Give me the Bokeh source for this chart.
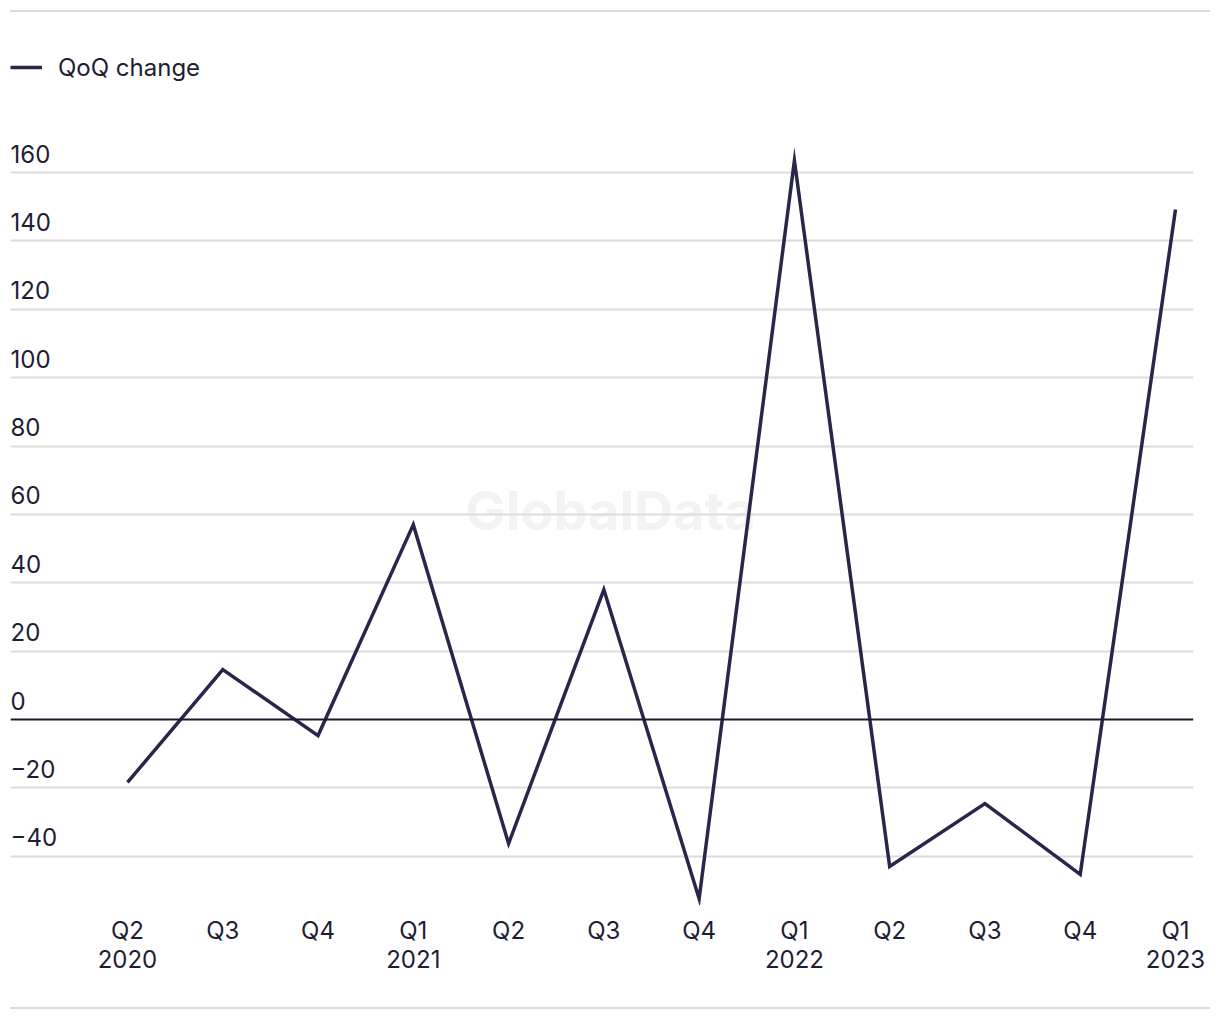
from bokeh.plotting import figure
from bokeh.models import (Range1d, FixedTicker, Span, Legend, LegendItem, Div, ColumnDataSource)
from bokeh.layouts import column
from bokeh.core.properties import value
from bokeh.embed import file_html
from bokeh.resources import INLINE

# ---- data ----
quarters = ["Q2\n2020", "Q3", "Q4", "Q1\n2021", "Q2", "Q3", "Q4",
            "Q1\n2022", "Q2", "Q3", "Q4", "Q1\n2023"]
qoq_change = [-18.4, 14.6, -4.7, 57.0, -36.3, 38.0, -52.4,
              163.5, -43.0, -24.6, -45.3, 149.2]
y_ticks = [-40, -20, 0, 20, 40, 60, 80, 100, 120, 140, 160]
y_tick_labels = [("\u2212" + str(-t)) if t < 0 else str(t) for t in y_ticks]

FONT = "Inter"
TEXT = "#1d1d33"
LINE = "#28274b"
GRID = "#dcdcdc"

x_idx = list(range(len(quarters)))
x_start, x_end = -1.228, 11.189

p = figure(width=1210, height=995, output_backend="svg", toolbar_location=None,
           x_range=Range1d(x_start, x_end), y_range=Range1d(-54.4, 195.1),
           y_axis_location=None, min_border_left=10, min_border_right=17,
           min_border_top=40, min_border_bottom=102)
p.outline_line_color = None
p.background_fill_color = "white"
p.border_fill_color = "white"

# watermark
wm = p.text(x=[5.07], y=[61], text=["GlobalData"], text_align="center",
            text_baseline="middle", text_font=value(FONT), text_font_style="bold",
            text_font_size="54px", text_color="#f3f3f3")
wm.level = "image"

# grid
p.xgrid.visible = False
p.ygrid.ticker = FixedTicker(ticks=[t for t in y_ticks if t != 0])
p.ygrid.grid_line_color = GRID
p.ygrid.grid_line_width = 2
p.add_layout(Span(location=0, dimension="width", line_color="#1a1a2e", line_width=2))

# y tick labels above gridlines
lab_src = ColumnDataSource(dict(x=[x_start] * len(y_ticks), y=y_ticks, t=y_tick_labels))
p.text(x="x", y="y", text="t", source=lab_src, text_align="left",
       text_baseline="alphabetic", y_offset=-19, text_font=value(FONT),
       text_font_size="24px", text_color=TEXT)

# line
r = p.line(x_idx, qoq_change, line_color=LINE, line_width=3.5, line_join="miter")

# x axis
xa = p.xaxis[0]
xa.ticker = FixedTicker(ticks=x_idx)
xa.major_label_overrides = {i: q for i, q in zip(x_idx, quarters)}
xa.axis_line_color = None
xa.major_tick_line_color = None
xa.minor_tick_line_color = None
xa.major_label_standoff = 4
xa.major_label_text_font = FONT
xa.major_label_text_font_size = "24px"
xa.major_label_text_color = TEXT
xa.major_label_text_line_height = 1.0

legend = Legend(items=[LegendItem(label="QoQ change", renderers=[r])],
                location="top_left", margin=0, padding=0, glyph_width=32,
                glyph_height=30, label_height=30, label_standoff=16,
                label_text_font=FONT, label_text_font_size="24px",
                label_text_color=TEXT, background_fill_alpha=0,
                border_line_color=None)
p.add_layout(legend)

top_rule = Div(text="", width=1200, height=2, margin=(10, 0, 0, 10),
               styles={"background-color": GRID})
bottom_rule = Div(text="", width=1200, height=2, margin=(0, 0, 0, 10),
                  styles={"background-color": GRID})

layout = column(top_rule, p, bottom_rule, spacing=0)
open("out.html", "w").write(file_html(layout, INLINE))
